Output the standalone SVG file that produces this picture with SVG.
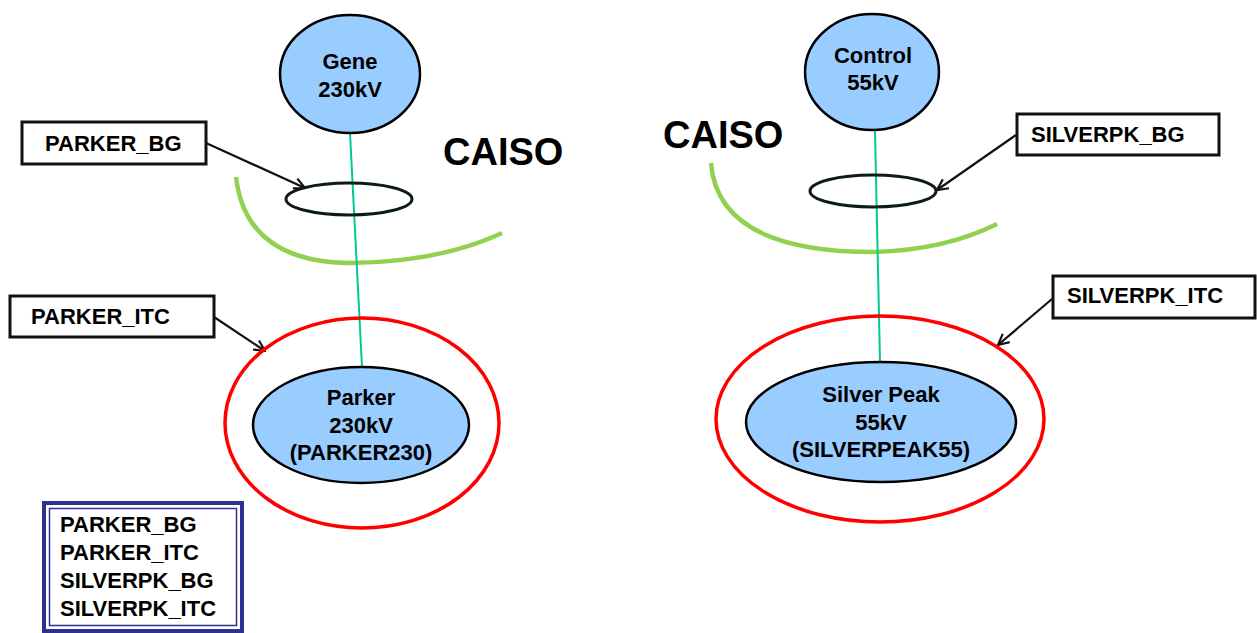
<svg xmlns="http://www.w3.org/2000/svg" width="1257" height="633" viewBox="0 0 1257 633">
<defs>
<style>
text{font-family:"Liberation Sans",Arial,sans-serif;font-weight:bold;fill:#000}
.bus{fill:#99ccff;stroke:#000;stroke-width:2.5}
.lbl{fill:#fff;stroke:#111;stroke-width:3}
.lt{font-size:22px}
.nt{font-size:22px;text-anchor:middle}
.caiso{font-size:38px}
.ring{fill:none;stroke:#0d1a1a;stroke-width:3}
.arc{fill:none;stroke:#92d050;stroke-width:4.5}
.itc{fill:none;stroke:#ff0000;stroke-width:3.5}
.tie{fill:none;stroke:#00c896;stroke-width:2}
.ptr{fill:none;stroke:#111;stroke-width:2.2}
.lg{font-size:22px}
</style>
<marker id="ah" viewBox="0 0 12 12" refX="11" refY="6" markerWidth="13" markerHeight="13" markerUnits="userSpaceOnUse" orient="auto">
<path d="M1,1 L11,6 L1,11" fill="none" stroke="#111" stroke-width="2"/>
</marker>
</defs>
<rect width="1257" height="633" fill="#fff"/>

<g id="caiso-left"><text class="caiso" x="443" y="165">CAISO</text></g>
<g id="caiso-right"><text class="caiso" x="663" y="148">CAISO</text></g>

<g id="arcs">
<path class="arc" d="M236,177 Q246,262 350,263 Q440,262 502,233"/>
<path class="arc" d="M711,163 Q718,252 874,252 Q945,250 997,224"/>
</g>

<g id="connectors">
<line class="tie" x1="350" y1="133" x2="362" y2="367"/>
<line class="tie" x1="875" y1="131" x2="880" y2="362"/>
<line class="ptr" x1="206" y1="143" x2="305" y2="188" marker-end="url(#ah)"/>
<line class="ptr" x1="214" y1="317" x2="265" y2="351" marker-end="url(#ah)"/>
<line class="ptr" x1="1016" y1="135" x2="937" y2="190" marker-end="url(#ah)"/>
<line class="ptr" x1="1052" y1="299" x2="998" y2="345" marker-end="url(#ah)"/>
</g>

<g id="gene">
<ellipse class="bus" cx="350" cy="74" rx="70" ry="59"/>
<text class="nt" x="350" y="69">Gene</text>
<text class="nt" x="350" y="97">230kV</text>
</g>

<g id="control">
<ellipse class="bus" cx="872" cy="72" rx="67" ry="58"/>
<text class="nt" x="873" y="63">Control</text>
<text class="nt" x="873" y="90">55kV</text>
</g>

<g id="parker-bg-ring"><ellipse class="ring" cx="349" cy="199" rx="63" ry="16"/></g>
<g id="silverpk-bg-ring"><ellipse class="ring" cx="873" cy="191" rx="63" ry="16"/></g>

<g id="parker-itc-ring"><ellipse class="itc" cx="362" cy="423" rx="137" ry="105"/></g>
<g id="silverpk-itc-ring"><ellipse class="itc" cx="880" cy="419" rx="164" ry="103"/></g>

<g id="parker">
<ellipse class="bus" cx="361" cy="425" rx="108" ry="58"/>
<text class="nt" x="361" y="405">Parker</text>
<text class="nt" x="361" y="433">230kV</text>
<text class="nt" x="361" y="460">(PARKER230)</text>
</g>

<g id="silverpeak">
<ellipse class="bus" cx="881" cy="422" rx="135" ry="60"/>
<text class="nt" x="881" y="402">Silver Peak</text>
<text class="nt" x="881" y="430">55kV</text>
<text class="nt" x="881" y="457">(SILVERPEAK55)</text>
</g>

<g id="label-parker-bg">
<rect class="lbl" x="22" y="122" width="184" height="42"/>
<text class="lt" x="45" y="151">PARKER_BG</text>
</g>
<g id="label-parker-itc">
<rect class="lbl" x="10" y="296" width="204" height="41"/>
<text class="lt" x="31" y="324">PARKER_ITC</text>
</g>
<g id="label-silverpk-bg">
<rect class="lbl" x="1017" y="114" width="202" height="41"/>
<text class="lt" x="1031" y="142">SILVERPK_BG</text>
</g>
<g id="label-silverpk-itc">
<rect class="lbl" x="1053" y="276" width="202" height="42"/>
<text class="lt" x="1067" y="303">SILVERPK_ITC</text>
</g>

<g id="legend">
<rect x="44" y="503" width="198" height="128" fill="#fff" stroke="#2e3192" stroke-width="4"/>
<rect x="49.5" y="508.5" width="187" height="117" fill="none" stroke="#2e3192" stroke-width="1.5"/>
<text class="lg" x="60" y="532">PARKER_BG</text>
<text class="lg" x="60" y="560">PARKER_ITC</text>
<text class="lg" x="60" y="588">SILVERPK_BG</text>
<text class="lg" x="60" y="616">SILVERPK_ITC</text>
</g>
</svg>
